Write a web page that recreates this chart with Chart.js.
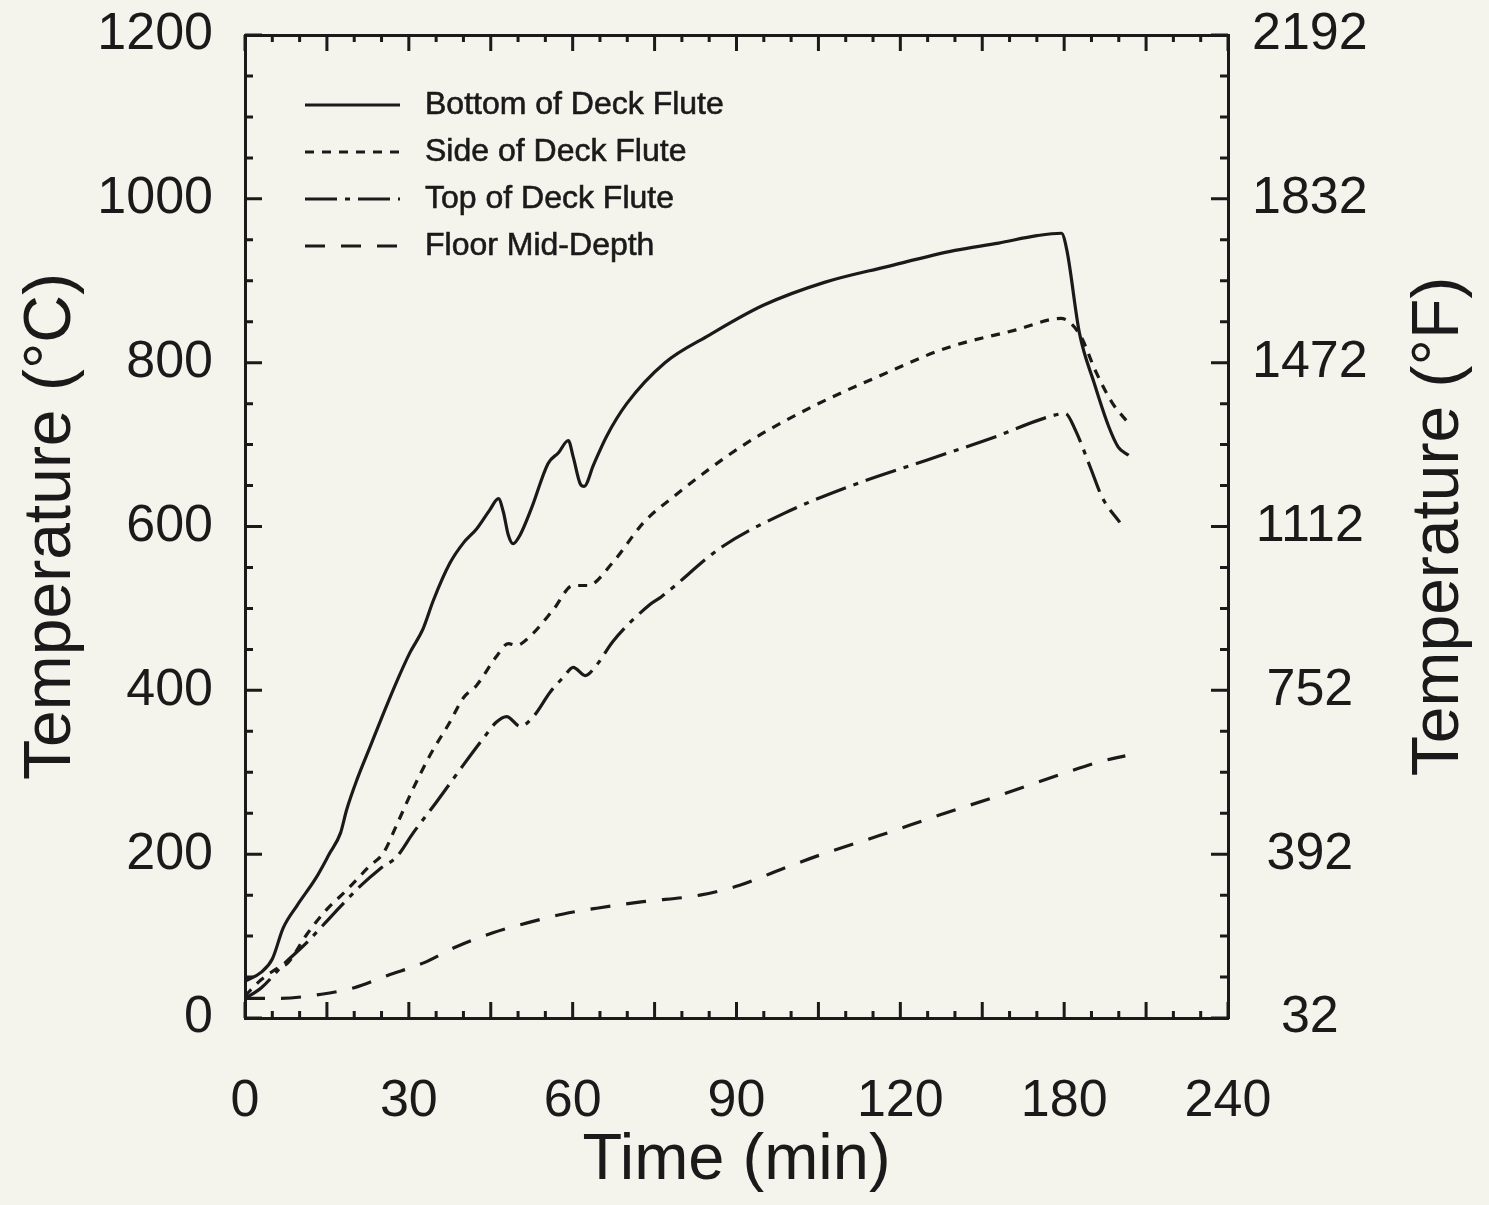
<!DOCTYPE html>
<html>
<head>
<meta charset="utf-8">
<script src="https://cdn.jsdelivr.net/npm/chart.js@4.4.1/dist/chart.umd.min.js"></script>
<style>
  html, body { margin: 0; padding: 0; background: #f4f4ec; }
</style>
</head>
<body>
<canvas id="tempChart" width="1489" height="1205"></canvas>
<script>
// 目盛（横軸は図に印刷されたラベルをそのまま表示）
const xTickValues = [0, 30, 60, 90, 120, 150, 180];
const xTickLabels = ["0", "30", "60", "90", "120", "180", "240"];
const cTickValues = [0, 200, 400, 600, 800, 1000, 1200];
const fTickValues = [32, 392, 752, 1112, 1472, 1832, 2192];

// Bottom of Deck Flute
const bottomTime = [0, 3, 5, 7, 9.5, 13, 15.5, 17.5, 18.6, 20.5, 22.9, 25.3, 27.8, 30.2, 32.6, 34.5, 37.5, 40, 42.4, 44.8, 46.4, 47.3, 48.2, 49.1, 50.4, 52.5, 55.5, 57.4, 59.2, 60.1, 61.4, 62.1, 63.8, 66.2, 69.9, 76.9, 85.1, 94.9, 106.1, 117.4, 130, 138, 145, 149.5, 150.5, 152.8, 155.5, 158.1, 159.9, 161.8];
const bottomTemp = [45, 56, 72, 110, 137, 171, 201, 226, 254, 291, 331, 371, 411, 446, 475, 510, 555, 580, 597, 620, 634, 618, 590, 579, 590, 623, 677, 690, 705, 685, 652, 649, 675, 710, 750, 800, 834, 870, 898, 917, 937, 946, 955, 958, 937, 836, 775, 723, 697, 687];

// Side of Deck Flute
const sideTime = [0, 3, 6.3, 7.8, 11.3, 14.9, 18.6, 22.9, 25.3, 27.8, 30.5, 33.9, 37.5, 40, 42.4, 46, 48.2, 49.7, 52.2, 56.4, 60.1, 62.8, 67.2, 73, 78.4, 91.2, 103.8, 116.6, 128.5, 141.2, 149.4, 152.9, 155.8, 158.8, 161.8];
const sideTemp = [27, 47, 62, 67, 102, 132, 156, 186, 201, 236, 276, 321, 361, 391, 406, 441, 457, 455, 466, 498, 528, 528, 555, 605, 636, 699, 746, 785, 818, 840, 854, 834, 789, 751, 726];

// Top of Deck Flute
const topTime = [0, 3, 7, 11.3, 15.5, 21.1, 24.7, 27.8, 30.8, 35.1, 40, 43.6, 46, 47.9, 50.4, 52.8, 55.9, 58.3, 60.1, 62.3, 64.4, 67.4, 74.2, 76.2, 87.3, 98.7, 109.9, 124.8, 136.8, 147.2, 150.2, 152.1, 154.8, 157, 160.2];
const topTemp = [24, 37, 65, 92, 122, 161, 182, 197, 226, 264, 309, 341, 361, 368, 356, 368, 398, 416, 428, 418, 431, 460, 505, 514, 575, 616, 647, 681, 708, 734, 738, 717, 672, 635, 605];

// Floor Mid-Depth
const floorTime = [0, 6.1, 14, 20, 26.1, 32.6, 38.7, 45.4, 52.2, 58.3, 64.4, 72.9, 83.3, 90.6, 98, 105.3, 116.3, 127.3, 138.3, 149.2, 156.6, 161.2];
const floorTemp = [24, 24, 29, 37, 52, 67, 87, 104, 117, 127, 134, 142, 150, 162, 181, 199, 223, 248, 272, 297, 313, 320];

const ink = "#1a1a1a";
const fontFamily = "'Liberation Sans', Arial, Helvetica, sans-serif";
const rightTitle = "Temperature (°F)";

const toPoints = (xs, ys) => xs.map((x, i) => ({ x: x, y: ys[i] }));

// 目盛ラベルのはみ出しで描画領域が縮まないようにする
const fixWidth = (w) => (s) => { s.width = w; s.paddingTop = 0; s.paddingBottom = 0; };
const fixHeight = (h) => (s) => { s.height = h; s.paddingLeft = 0; s.paddingRight = 0; };

// 内向きの目盛線（スケールの座標変換を使う）
const tickMarks = {
  id: "tickMarks",
  afterDraw(chart) {
    const { ctx, chartArea: a, scales } = chart;
    ctx.save();
    ctx.strokeStyle = ink;
    ctx.lineWidth = 3;
    ctx.beginPath();
    for (let v = 0; v <= 180; v += 5) {
      const len = v % 15 === 0 ? 16 : 7;
      const xb = scales.x.getPixelForValue(v);
      const xt = scales.x2.getPixelForValue(v);
      ctx.moveTo(xb, a.bottom); ctx.lineTo(xb, a.bottom - len);
      ctx.moveTo(xt, a.top); ctx.lineTo(xt, a.top + len);
    }
    for (let v = 0; v <= 1200; v += 50) {
      const len = v % 200 === 0 ? 17 : 8;
      const y = scales.y.getPixelForValue(v);
      ctx.moveTo(a.left, y); ctx.lineTo(a.left + len, y);
    }
    for (let v = 32; v <= 2192; v += 90) {
      const len = (v - 32) % 360 === 0 ? 17 : 8;
      const y = scales.y2.getPixelForValue(v);
      ctx.moveTo(a.right, y); ctx.lineTo(a.right - len, y);
    }
    ctx.stroke();
    ctx.restore();
  }
};

// 凡例（グラフ内左上、線種つき）
const legendBox = {
  id: "legendBox",
  afterDraw(chart) {
    const { ctx, chartArea: a } = chart;
    ctx.save();
    ctx.font = "32px " + fontFamily;
    ctx.fillStyle = ink;
    ctx.strokeStyle = ink;
    ctx.textBaseline = "middle";
    chart.data.datasets.forEach((ds, i) => {
      const y = a.top + 70 + i * 47;
      ctx.lineWidth = ds.borderWidth;
      ctx.setLineDash(ds.borderDash || []);
      ctx.beginPath();
      ctx.moveTo(a.left + 60, y);
      ctx.lineTo(a.left + 155, y);
      ctx.stroke();
      ctx.setLineDash([]);
      ctx.lineWidth = 0.6; // スキャン画像の太めの文字に寄せる
      ctx.fillText(ds.label, a.left + 180, y);
      ctx.strokeText(ds.label, a.left + 180, y);
    });
    ctx.restore();
  }
};

// 右軸タイトル（下から上へ読む向き）
const rightAxisTitle = {
  id: "rightAxisTitle",
  afterDraw(chart) {
    const { ctx, chartArea: a } = chart;
    ctx.save();
    ctx.translate(a.right + 212, (a.top + a.bottom) / 2);
    ctx.rotate(-Math.PI / 2);
    ctx.font = "66px " + fontFamily;
    ctx.fillStyle = ink;
    ctx.textAlign = "center";
    ctx.textBaseline = "middle";
    ctx.fillText(rightTitle, 0, 0);
    ctx.restore();
  }
};

const lineStyle = { borderColor: ink, borderWidth: 3.2, pointRadius: 0, fill: false, cubicInterpolationMode: "monotone" };
const plain = (v) => String(v);

new Chart(document.getElementById("tempChart").getContext("2d"), {
  type: "line",
  data: {
    datasets: [
      { ...lineStyle, label: "Bottom of Deck Flute", data: toPoints(bottomTime, bottomTemp), borderDash: [] },
      { ...lineStyle, label: "Side of Deck Flute", data: toPoints(sideTime, sideTemp), borderDash: [9, 8] },
      { ...lineStyle, label: "Top of Deck Flute", data: toPoints(topTime, topTemp), borderDash: [32, 8, 5, 8] },
      { ...lineStyle, label: "Floor Mid-Depth", data: toPoints(floorTime, floorTemp), borderDash: [20, 16] },
    ],
  },
  options: {
    responsive: false,
    animation: false,
    devicePixelRatio: 1,
    layout: { padding: 0 },
    plugins: { legend: { display: false }, tooltip: { enabled: false } },
    scales: {
      x: {
        type: "linear", position: "bottom", min: 0, max: 180,
        afterBuildTicks: (s) => { s.ticks = xTickValues.map((v) => ({ value: v })); },
        afterFit: fixHeight(187),
        ticks: {
          callback: (v, i) => xTickLabels[i],
          font: { family: fontFamily, size: 52 }, color: ink, padding: 52, maxRotation: 0,
        },
        grid: { display: false, drawTicks: false },
        border: { color: ink, width: 3 },
        title: { display: true, text: "Time (min)", color: ink, font: { family: fontFamily, size: 65 }, padding: { top: 0, bottom: 5 } },
      },
      x2: {
        type: "linear", position: "top", min: 0, max: 180,
        afterFit: fixHeight(35),
        ticks: { display: false },
        grid: { display: false, drawTicks: false },
        border: { color: ink, width: 3 },
      },
      y: {
        type: "linear", position: "left", min: 0, max: 1200,
        afterBuildTicks: (s) => { s.ticks = cTickValues.map((v) => ({ value: v })); },
        afterFit: fixWidth(245),
        ticks: { callback: plain, font: { family: fontFamily, size: 52 }, color: ink, padding: 32 },
        grid: { display: false, drawTicks: false },
        border: { color: ink, width: 3 },
        title: { display: true, text: "Temperature (°C)", color: ink, font: { family: fontFamily, size: 66 }, padding: { top: 12, bottom: 0 } },
      },
      y2: {
        type: "linear", position: "right", min: 32, max: 2192,
        afterBuildTicks: (s) => { s.ticks = fTickValues.map((v) => ({ value: v })); },
        afterFit: fixWidth(261),
        ticks: { callback: plain, font: { family: fontFamily, size: 52 }, color: ink, padding: 24, crossAlign: "center" },
        grid: { display: false, drawTicks: false },
        border: { color: ink, width: 3 },
      },
    },
  },
  plugins: [tickMarks, legendBox, rightAxisTitle],
});
</script>
</body>
</html>
